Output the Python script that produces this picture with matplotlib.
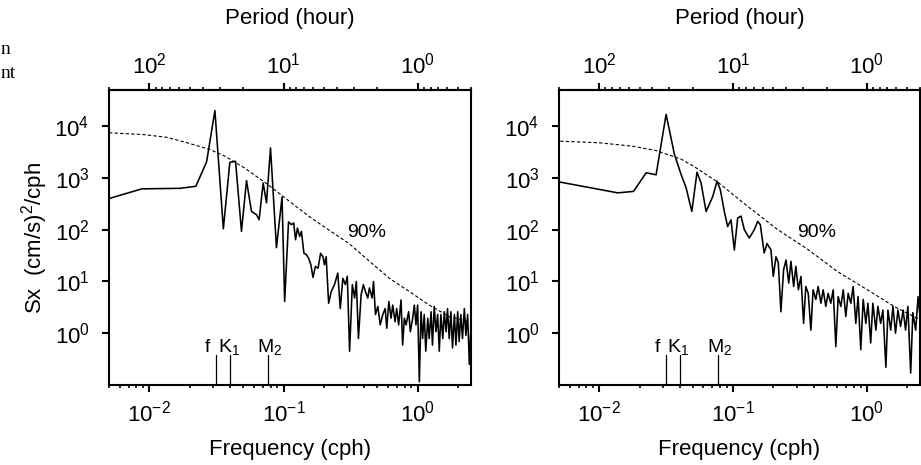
import numpy as np
import matplotlib
matplotlib.use('Agg')
import matplotlib.pyplot as plt
from matplotlib.ticker import FixedLocator, NullLocator, NullFormatter, LogLocator

plt.rcParams['font.family'] = ['Liberation Sans', 'DejaVu Sans']

# ---- left panel (first record) ----
freq_left = [0.0050, 0.0088, 0.0169, 0.0222, 0.0267, 0.0308, 0.0356, 0.0398, 0.0439, 0.0486,
             0.0530, 0.0577, 0.0629, 0.0658, 0.0705, 0.0747, 0.0800, 0.0886, 0.0975, 0.102,
             0.109, 0.1146, 0.119, 0.123, 0.127, 0.132, 0.136, 0.142, 0.148, 0.154,
             0.160, 0.166, 0.173, 0.181, 0.189, 0.197, 0.202, 0.208, 0.217, 0.227,
             0.240, 0.254, 0.265, 0.277, 0.289, 0.299, 0.311, 0.326, 0.339, 0.349,
             0.362, 0.379, 0.394, 0.408, 0.425, 0.437, 0.458, 0.469, 0.485, 0.505,
             0.526, 0.550, 0.573, 0.589, 0.610, 0.634, 0.652, 0.679, 0.698, 0.722,
             0.752, 0.773, 0.796, 0.820, 0.857, 0.883, 0.918, 0.945, 0.972, 1.00,
             1.03, 1.06, 1.09, 1.12, 1.15, 1.19, 1.22, 1.26, 1.29, 1.33,
             1.37, 1.41, 1.45, 1.49, 1.54, 1.58, 1.63, 1.67, 1.72, 1.77,
             1.82, 1.88, 1.93, 1.99, 2.04, 2.10, 2.16, 2.23, 2.29, 2.36,
             2.43, 2.50]
sx_left = [400, 616, 630, 690, 2040, 20000, 104, 2000, 2100, 93,
           890, 225, 195, 156, 800, 330, 3800, 45, 426, 4.1,
           142, 125, 135, 64, 107, 74, 93, 35, 33, 28,
           21, 12, 19.6, 18, 35, 30, 21, 30, 3.8, 6.4,
           8.7, 14.5, 3.0, 11.5, 8.7, 12.6, 0.45, 8.7, 4.8, 10,
           0.79, 5.5, 8.7, 6.4, 4.8, 7.5, 4.8, 10, 2.3, 3.3,
           1.45, 2.3, 3.0, 1.25, 4.1, 1.95, 3.5, 1.67, 3.0, 1.45,
           4.4, 0.59, 1.95, 1.45, 2.6, 1.07, 1.95, 3.5, 1.45, 3.5,
           0.115, 2.6, 0.79, 2.3, 0.45, 1.95, 0.79, 2.6, 0.59, 3.3,
           1.07, 2.3, 0.45, 2.3, 0.79, 2.6, 1.07, 3.0, 0.79, 2.6,
           0.52, 2.3, 0.59, 2.6, 0.69, 2.3, 0.79, 3.0, 0.91, 2.3,
           0.25, 1.5]
conf_freq_left = [0.005, 0.009, 0.0135, 0.019, 0.0282, 0.0366, 0.0514, 0.0767, 0.1146, 0.161,
                  0.311, 0.438, 0.616, 0.867, 1.22, 1.72, 2.45]
conf_left = [7450, 6900, 6100, 4800, 3550, 2630, 1550, 740, 330, 168,
             53, 24.5, 11.5, 6.4, 3.5, 2.1, 1.67]

# ---- right panel (second record) ----
freq_right = [0.00511, 0.01377, 0.01803, 0.02244, 0.0266, 0.0316, 0.0365, 0.041, 0.0446, 0.0492,
              0.0538, 0.0577, 0.0629, 0.0706, 0.076, 0.0804, 0.0861, 0.0912, 0.0966, 0.1023,
              0.1084, 0.1148, 0.1215, 0.1323, 0.1443, 0.1528, 0.160, 0.171, 0.1795, 0.192,
              0.200, 0.2095, 0.218, 0.228, 0.239, 0.249, 0.261, 0.271, 0.284, 0.295,
              0.308, 0.322, 0.337, 0.350, 0.365, 0.382, 0.397, 0.416, 0.433, 0.454,
              0.472, 0.494, 0.514, 0.538, 0.561, 0.587, 0.611, 0.640, 0.667, 0.697,
              0.726, 0.760, 0.791, 0.828, 0.861, 0.902, 0.940, 0.984, 1.02, 1.07,
              1.11, 1.17, 1.21, 1.27, 1.32, 1.39, 1.44, 1.51, 1.57, 1.64,
              1.71, 1.79, 1.87, 1.95, 2.03, 2.13, 2.21, 2.32, 2.42, 2.53]
sx_right = [830, 515, 550, 1260, 1150, 16900, 2830, 1150, 645, 225,
            1290, 800, 225, 440, 870, 590, 225, 115, 155, 40.5,
            169, 183, 100, 69, 100, 145, 125, 35.5, 54, 41,
            12.5, 30, 23, 2.6, 17, 26, 9.3, 24.5, 8.0, 19.6,
            6.9, 12.5, 1.55, 8.0, 5.9, 1.15, 6.9, 4.5, 8.0, 3.8,
            6.9, 3.3, 5.9, 3.8, 6.9, 0.55, 5.1, 3.3, 6.9, 2.1,
            5.9, 3.8, 8.0, 1.55, 5.1, 0.48, 4.5, 1.55, 3.8, 0.65,
            3.8, 1.15, 3.3, 1.55, 2.8, 0.22, 2.8, 1.15, 3.3, 1.0,
            2.8, 1.35, 2.8, 1.15, 3.3, 0.17, 2.5, 1.15, 5.1, 1.55]
conf_freq_right = [0.00511, 0.01, 0.0178, 0.0266, 0.041, 0.0514, 0.0769, 0.1288, 0.216, 0.361,
                   0.604, 1.01, 1.60, 2.53]
conf_right = [5130, 4780, 4100, 3380, 2300, 1650, 830, 282, 100, 42,
              15.5, 6.9, 3.3, 1.8]

# tidal / inertial marks
tide_labels = ['f', r'$\mathdefault{K_1}$', r'$\mathdefault{M_2}$']
tide_freq = [0.0315, 0.0400, 0.0770]
tide_label_dx = [-6, -1, 1]   # label offset from line, points


def inv(x):
    x = np.asarray(x, dtype=float)
    with np.errstate(divide='ignore'):
        return 1.0 / x


def draw_panel(ax, freq, sx, cfreq, conf, ylabel=True):
    ax.plot(freq, sx, color='black', lw=1.15)
    ax.plot(cfreq, conf, color='black', lw=0.8, ls=(0, (3, 2)))
    ax.set_xscale('log')
    ax.set_yscale('log')
    ax.set_xlim(0.005, 2.5)
    ax.set_ylim(0.1, 5e4)

    ax.yaxis.set_major_locator(FixedLocator([1, 10, 100, 1e3, 1e4]))
    ax.yaxis.set_minor_locator(NullLocator())
    ax.xaxis.set_major_locator(FixedLocator([0.01, 0.1, 1]))
    ax.xaxis.set_minor_locator(LogLocator(base=10, subs=np.arange(2, 10)))
    ax.xaxis.set_minor_formatter(NullFormatter())

    for s in ax.spines.values():
        s.set_linewidth(1.5)
    ax.tick_params(which='major', direction='out', length=5, width=1.5, labelsize=16)
    ax.tick_params(axis='y', pad=9)
    ax.tick_params(axis='x', pad=6)
    ax.tick_params(axis='x', which='minor', direction='out', length=2.5, width=1.2)

    ax.set_xlabel('Frequency (cph)', fontsize=16, labelpad=9)
    if ylabel:
        ax.set_ylabel(r'Sx  (cm/s)$^\mathdefault{2}$/cph', fontsize=16, labelpad=3)

    # top axis: period
    sec = ax.secondary_xaxis('top', functions=(inv, inv))
    sec.xaxis.set_major_locator(FixedLocator([100, 10, 1]))
    sec.xaxis.set_minor_locator(LogLocator(base=10, subs=np.arange(2, 10)))
    sec.xaxis.set_minor_formatter(NullFormatter())
    sec.tick_params(which='major', direction='out', length=5, width=1.5, labelsize=16, pad=3)
    sec.tick_params(which='minor', direction='out', length=2.5, width=1.2)
    sec.spines['top'].set_linewidth(1.5)
    sec.set_xlabel('Period (hour)', fontsize=16, labelpad=21)

    ax.text(0.42, 90, '90%', fontsize=14, ha='center', va='center')

    for i in range(len(tide_freq)):
        ax.plot([tide_freq[i], tide_freq[i]], [0.1, 0.38], color='black', lw=0.9)
        ax.annotate(tide_labels[i], xy=(tide_freq[i], 0.44), xytext=(tide_label_dx[i], 0),
                    textcoords='offset points', ha='center', va='baseline', fontsize=14)


def main():
    fig = plt.figure(figsize=(9.21, 4.65), dpi=100)
    ax1 = fig.add_axes([109 / 921, 80 / 465, 362 / 921, 295 / 465])
    ax2 = fig.add_axes([559 / 921, 80 / 465, 361 / 921, 295 / 465])

    draw_panel(ax1, freq_left, sx_left, conf_freq_left, conf_left, ylabel=True)
    draw_panel(ax2, freq_right, sx_right, conf_freq_right, conf_right, ylabel=False)

    # fragments of the neighbouring text column
    fig.text(0.5 / 921, 1 - 49 / 465, 'n', family='Liberation Serif', fontsize=14,
             ha='left', va='center')
    fig.text(0.5 / 921, 1 - 74 / 465, 'nt', family='Liberation Serif', fontsize=14,
             ha='left', va='center')

    fig.savefig('out.png', dpi=100)


if __name__ == '__main__':
    main()
